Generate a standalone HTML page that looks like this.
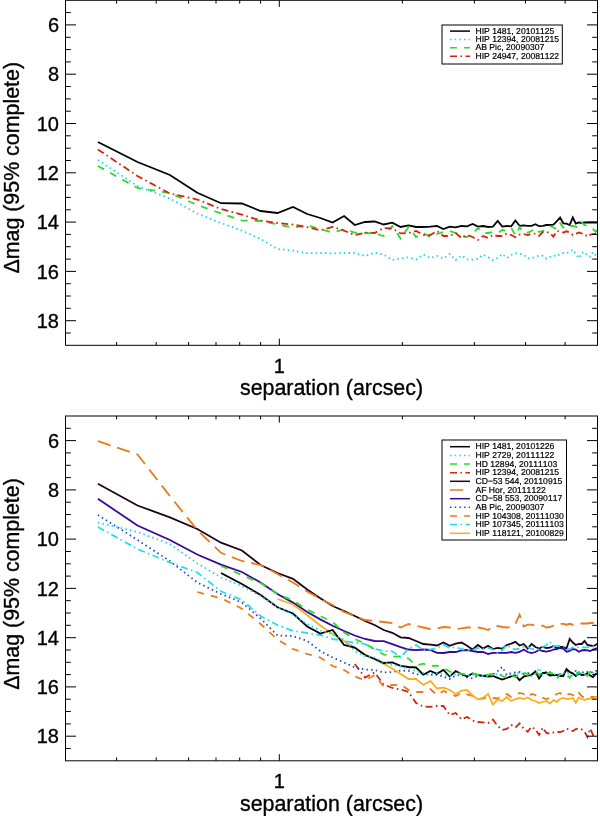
<!DOCTYPE html>
<html><head><meta charset="utf-8"><title>Contrast curves</title>
<style>
html,body{margin:0;padding:0;background:#fff;}
svg{display:block;will-change:transform;}
text{font-family:"Liberation Sans",sans-serif;fill:#000;font-kerning:none;}
.tk{font-size:20px;stroke:#000;stroke-width:0.35px;}
.ax{font-size:21.4px;stroke:#000;stroke-width:0.35px;}
.lg{font-size:8.6px;text-rendering:geometricPrecision;stroke:#000;stroke-width:0.2px;}
.cv polyline{fill:none;stroke-width:1.8;stroke-linejoin:miter;}
</style></head><body>
<svg width="600" height="816" viewBox="0 0 600 816">
<rect width="600" height="816" fill="#fff"/>
<defs><clipPath id="c1"><rect x="65.5" y="0" width="532" height="345.3"/></clipPath>
<clipPath id="c2"><rect x="65.5" y="416" width="532" height="344.8"/></clipPath></defs>
<g class="cv" clip-path="url(#c1)">
<polyline points="97.9,142.0 137.5,162.0 169.9,175.0 197.3,192.8 221.0,203.2 241.9,203.5 260.6,211.0 277.5,213.0 293.0,207.0 307.2,214.0 320.3,218.0 332.6,222.6 344.1,216.0 354.8,225.0 365.0,222.0 374.6,221.5 383.7,224.5 392.3,222.6 400.6,227.0 408.5,225.4 416.1,227.0 423.3,227.0 430.3,226.6 437.0,226.0 443.4,229.0 449.7,226.6 455.7,227.4 461.5,226.0 467.1,226.4 472.6,224.0 477.9,226.6 483.1,226.0 488.1,227.0 492.9,226.6 497.7,221.0 502.3,226.6 506.8,226.0 511.2,226.3 515.4,220.5 519.6,225.8 523.7,225.3 527.7,225.8 531.6,225.8 535.4,224.2 539.1,226.2 542.8,225.8 546.4,225.0 549.9,225.0 553.4,224.7 556.7,221.3 560.1,217.5 563.3,223.3 566.5,223.7 569.7,225.0 572.8,217.5 575.8,223.7 578.8,222.5 581.7,223.0 584.6,222.5 587.4,222.5 590.2,222.5 593.0,222.5 595.7,222.5 598.4,222.5" stroke="#000"/>
<polyline points="97.9,160.0 137.5,186.0 169.9,198.6 197.3,213.5 221.0,223.0 241.9,230.6 260.6,239.0 277.5,249.0 293.0,250.6 307.2,253.2 320.3,253.0 332.6,253.4 344.1,253.0 354.8,253.0 365.0,256.0 374.6,252.6 383.7,254.6 392.3,260.0 400.6,258.6 408.5,257.4 416.1,259.5 423.3,254.6 430.3,258.0 437.0,256.0 443.4,258.6 449.7,254.0 455.7,260.0 461.5,255.4 467.1,259.4 472.6,259.6 477.9,259.0 483.1,254.6 488.1,257.0 492.9,260.2 497.7,258.0 502.3,254.0 506.8,258.0 511.2,255.0 515.4,253.3 519.6,253.7 523.7,254.7 527.7,258.3 531.6,258.3 535.4,257.0 539.1,255.5 542.8,255.8 546.4,258.7 549.9,257.0 553.4,255.5 556.7,256.3 560.1,254.0 563.3,253.0 566.5,253.0 569.7,252.0 572.8,249.7 575.8,254.0 578.8,258.3 581.7,253.0 584.6,252.0 587.4,255.8 590.2,256.7 593.0,252.0 595.7,255.0 598.4,254.0" stroke="#19d3f3" stroke-dasharray="1.5 3.2"/>
<polyline points="97.9,166.0 137.5,188.0 169.9,193.0 197.3,205.0 221.0,213.4 241.9,220.6 260.6,221.0 277.5,224.4 293.0,227.6 307.2,225.5 320.3,229.0 332.6,232.6 344.1,229.4 354.8,232.6 365.0,233.0 374.6,233.4 383.7,236.0 392.3,226.0 400.6,238.6 408.5,227.0 416.1,237.0 423.3,233.0 430.3,237.0 437.0,234.0 443.4,232.0 449.7,231.0 455.7,233.0 461.5,236.0 467.1,237.0 472.6,234.0 477.9,228.0 483.1,233.0 488.1,233.0 492.9,232.0 497.7,233.0 502.3,230.0 506.8,230.5 511.2,228.0 515.4,235.5 519.6,227.0 523.7,233.0 527.7,232.5 531.6,231.0 535.4,228.0 539.1,232.0 542.8,231.0 546.4,229.0 549.9,226.0 553.4,227.5 556.7,229.0 560.1,223.0 563.3,227.5 566.5,225.0 569.7,226.0 572.8,226.0 575.8,226.7 578.8,228.0 581.7,222.5 584.6,225.0 587.4,226.0 590.2,226.7 593.0,229.0 595.7,231.7 598.4,229.0" stroke="#2bdc2b" stroke-dasharray="7 7"/>
<polyline points="97.9,149.4 137.5,176.0 169.9,193.5 197.3,199.5 221.0,209.0 241.9,214.6 260.6,220.6 277.5,223.0 293.0,224.6 307.2,227.2 320.3,230.3 332.6,227.0 344.1,230.6 354.8,235.2 365.0,232.6 374.6,233.0 383.7,228.0 392.3,228.3 400.6,233.4 408.5,233.0 416.1,231.0 423.3,235.0 430.3,235.0 437.0,231.0 443.4,236.0 449.7,236.0 455.7,233.0 461.5,238.0 467.1,235.0 472.6,237.0 477.9,240.0 483.1,236.0 488.1,238.0 492.9,235.0 497.7,236.0 502.3,236.0 506.8,233.5 511.2,235.0 515.4,237.3 519.6,234.5 523.7,234.0 527.7,235.0 531.6,233.7 535.4,233.7 539.1,235.8 542.8,232.0 546.4,232.0 549.9,233.0 553.4,236.7 556.7,231.0 560.1,231.7 563.3,232.5 566.5,231.3 569.7,232.5 572.8,235.0 575.8,234.0 578.8,232.5 581.7,233.3 584.6,234.0 587.4,236.7 590.2,234.7 593.0,234.2 595.7,233.7 598.4,233.5" stroke="#d9230f" stroke-dasharray="7 3.4 1.6 3.4"/>
</g>
<rect x="65.5" y="0.3" width="532.0" height="345.0" fill="none" stroke="#000" stroke-width="1"/>
<path d="M65.5 12.6h5.3M597.5 12.6h-5.3M65.5 24.9h10.5M597.5 24.9h-10.5M65.5 37.3h5.3M597.5 37.3h-5.3M65.5 49.6h5.3M597.5 49.6h-5.3M65.5 61.9h5.3M597.5 61.9h-5.3M65.5 74.2h10.5M597.5 74.2h-10.5M65.5 86.5h5.3M597.5 86.5h-5.3M65.5 98.9h5.3M597.5 98.9h-5.3M65.5 111.2h5.3M597.5 111.2h-5.3M65.5 123.5h10.5M597.5 123.5h-10.5M65.5 135.8h5.3M597.5 135.8h-5.3M65.5 148.2h5.3M597.5 148.2h-5.3M65.5 160.5h5.3M597.5 160.5h-5.3M65.5 172.8h10.5M597.5 172.8h-10.5M65.5 185.1h5.3M597.5 185.1h-5.3M65.5 197.4h5.3M597.5 197.4h-5.3M65.5 209.8h5.3M597.5 209.8h-5.3M65.5 222.1h10.5M597.5 222.1h-10.5M65.5 234.4h5.3M597.5 234.4h-5.3M65.5 246.7h5.3M597.5 246.7h-5.3M65.5 259.1h5.3M597.5 259.1h-5.3M65.5 271.4h10.5M597.5 271.4h-10.5M65.5 283.7h5.3M597.5 283.7h-5.3M65.5 296.0h5.3M597.5 296.0h-5.3M65.5 308.3h5.3M597.5 308.3h-5.3M65.5 320.7h10.5M597.5 320.7h-10.5M65.5 333.0h5.3M597.5 333.0h-5.3M116.6 345.3v-3.3M116.6 0.3v3.3M156.2 345.3v-3.3M156.2 0.3v3.3M188.6 345.3v-3.3M188.6 0.3v3.3M216.0 345.3v-3.3M216.0 0.3v3.3M239.7 345.3v-3.3M239.7 0.3v3.3M260.6 345.3v-3.3M260.6 0.3v3.3M279.3 345.3v-6.6M279.3 0.3v6.6M402.4 345.3v-3.3M402.4 0.3v3.3M474.4 345.3v-3.3M474.4 0.3v3.3M525.5 345.3v-3.3M525.5 0.3v3.3M565.1 345.3v-3.3M565.1 0.3v3.3" stroke="#000" stroke-width="1" fill="none"/>
<text x="59" y="32.0" text-anchor="end" class="tk">6</text>
<text x="59" y="81.3" text-anchor="end" class="tk">8</text>
<text x="59" y="130.6" text-anchor="end" class="tk">10</text>
<text x="59" y="179.9" text-anchor="end" class="tk">12</text>
<text x="59" y="229.2" text-anchor="end" class="tk">14</text>
<text x="59" y="278.5" text-anchor="end" class="tk">16</text>
<text x="59" y="327.8" text-anchor="end" class="tk">18</text>
<text x="279.3" y="372.6" text-anchor="middle" class="tk">1</text>
<text x="331.5" y="395.3" text-anchor="middle" class="ax">separation (arcsec)</text>
<text transform="translate(18.8 167.8) rotate(-90)" text-anchor="middle" class="ax">Δmag (95% complete)</text>
<rect x="442.0" y="25.0" width="120.3" height="39.0" fill="#fff" stroke="#000" stroke-width="1"/>
<path d="M450 31.1H470.0" stroke="#000" stroke-width="1.5" fill="none"/>
<text x="475.5" y="33.7" class="lg">HIP 1481, 20101125</text>
<path d="M450 39.5H470.0" stroke="#19d3f3" stroke-width="1.5" fill="none" stroke-dasharray="1.5 3.2"/>
<text x="475.5" y="42.1" class="lg">HIP 12394, 20081215</text>
<path d="M450 47.8H470.0" stroke="#2bdc2b" stroke-width="1.5" fill="none" stroke-dasharray="7 7"/>
<text x="475.5" y="50.4" class="lg">AB Pic, 20090307</text>
<path d="M450 56.2H470.0" stroke="#d9230f" stroke-width="1.5" fill="none" stroke-dasharray="7 3.4 1.6 3.4"/>
<text x="475.5" y="58.8" class="lg">HIP 24947, 20081122</text>
<g class="cv" clip-path="url(#c2)">
<polyline points="354.8,664.0 365.0,677.5 374.6,672.5 383.7,684.5 392.3,688.0 400.6,689.4 408.5,692.0 416.1,703.0 423.3,706.5 430.3,706.8 437.0,706.0 443.4,706.0 449.7,715.0 455.7,713.0 461.5,719.3 467.1,717.0 472.6,720.6 477.9,722.0 483.1,722.4 488.1,723.0 492.9,719.5 497.7,726.0 502.3,730.0 506.8,729.0 511.2,725.0 515.4,727.6 519.6,723.4 523.7,728.5 527.7,731.8 531.6,726.7 535.4,729.4 539.1,735.0 542.8,727.6 546.4,733.0 549.9,733.6 553.4,732.5 556.7,732.0 560.1,732.0 563.3,731.0 566.5,728.5 569.7,730.0 572.8,731.0 575.8,729.0 578.8,728.5 581.7,729.4 584.6,731.8 587.4,737.0 590.2,728.5 593.0,735.0 595.7,733.6 598.4,733.0" stroke="#d9230f" stroke-dasharray="7 3.4 1.6 3.4"/>
<polyline points="97.9,483.8 137.5,505.5 169.9,517.3 197.3,529.0 221.0,542.7 241.9,550.5 260.6,565.0 277.5,573.0 293.0,578.8 307.2,589.5 320.3,598.3 332.6,606.0 344.1,611.0 354.8,616.0 365.0,621.0 374.6,625.0 383.7,630.0 392.3,632.8 400.6,637.3 408.5,638.0 416.1,641.0 423.3,644.0 430.3,644.6 437.0,645.5 443.4,642.5 449.7,645.8 455.7,643.6 461.5,642.5 467.1,645.8 472.6,649.5 477.9,645.0 483.1,648.6 488.1,645.8 492.9,649.0 497.7,647.8 502.3,648.6 506.8,645.0 511.2,643.6 515.4,641.8 519.6,645.5 523.7,644.0 527.7,648.6 531.6,644.0 535.4,647.0 539.1,648.6 542.8,646.8 546.4,648.0 549.9,647.7 553.4,646.0 556.7,648.0 560.1,646.8 563.3,647.0 566.5,648.6 569.7,638.9 572.8,642.5 575.8,645.0 578.8,644.0 581.7,644.0 584.6,641.0 587.4,645.0 590.2,645.5 593.0,646.0 595.7,645.0 598.4,643.0" stroke="#1c0418"/>
<polyline points="97.9,441.2 137.5,454.5 169.9,496.0 197.3,530.0 221.0,552.8 241.9,561.0 260.6,565.0 277.5,574.0 293.0,582.5 307.2,591.5 320.3,598.8 332.6,605.0 344.1,612.0 354.8,616.0 365.0,620.0 374.6,621.0 383.7,622.0 392.3,623.0 400.6,627.5 408.5,624.0 416.1,625.8 423.3,627.5 430.3,629.0 437.0,628.4 443.4,627.0 449.7,627.5 455.7,629.0 461.5,628.4 467.1,627.5 472.6,627.5 477.9,627.5 483.1,628.4 488.1,630.0 492.9,626.5 497.7,626.0 502.3,627.0 506.8,627.5 511.2,627.0 515.4,623.8 519.6,614.7 523.7,626.6 527.7,624.7 531.6,624.7 535.4,625.7 539.1,625.3 542.8,625.7 546.4,627.5 549.9,627.0 553.4,625.7 556.7,624.7 560.1,624.0 563.3,623.8 566.5,624.7 569.7,623.8 572.8,624.7 575.8,624.0 578.8,623.8 581.7,623.5 584.6,623.5 587.4,623.5 590.2,623.0 593.0,623.0 595.7,623.0 598.4,623.0" stroke="#ea7a1f" stroke-dasharray="13.3 7"/>
<polyline points="97.9,498.8 137.5,525.5 169.9,540.0 197.3,554.5 221.0,564.7 241.9,572.0 260.6,582.5 277.5,594.0 293.0,602.6 307.2,612.0 320.3,619.4 332.6,625.7 344.1,631.0 354.8,635.5 365.0,639.0 374.6,641.0 383.7,641.2 392.3,644.2 400.6,647.2 408.5,649.5 416.1,650.2 423.3,649.5 430.3,650.0 437.0,652.8 443.4,653.0 449.7,652.0 455.7,652.0 461.5,650.4 467.1,650.0 472.6,651.0 477.9,652.0 483.1,652.0 488.1,654.0 492.9,652.9 497.7,652.9 502.3,652.8 506.8,652.8 511.2,652.0 515.4,652.8 519.6,652.0 523.7,649.5 527.7,652.0 531.6,653.0 535.4,652.0 539.1,650.0 542.8,651.0 546.4,651.7 549.9,651.0 553.4,649.5 556.7,649.0 560.1,648.0 563.3,648.6 566.5,651.7 569.7,651.0 572.8,649.0 575.8,649.5 578.8,651.7 581.7,650.4 584.6,650.0 587.4,650.4 590.2,651.0 593.0,649.5 595.7,648.6 598.4,648.0" stroke="#380898"/>
<polyline points="97.9,515.0 137.5,540.0 169.9,561.0 197.3,582.5 221.0,594.0 241.9,602.5 260.6,618.5 277.5,635.5 293.0,636.0 307.2,641.0 320.3,651.0 332.6,657.5 344.1,662.5 354.8,667.5 365.0,669.5 374.6,670.0 383.7,672.5 392.3,672.0 400.6,670.5 408.5,671.0 416.1,674.5 423.3,674.0 430.3,674.7 437.0,675.0 443.4,676.6 449.7,679.0 455.7,675.7 461.5,674.7 467.1,677.5 472.6,678.4 477.9,675.7 483.1,675.7 488.1,674.7 492.9,674.5 497.7,671.0 502.3,667.0 506.8,675.0 511.2,673.0 515.4,672.5 519.6,672.0 523.7,674.0 527.7,673.0 531.6,674.0 535.4,673.0 539.1,675.0 542.8,673.0 546.4,672.0 549.9,674.0 553.4,675.0 556.7,676.0 560.1,674.0 563.3,675.0 566.5,669.5 569.7,674.0 572.8,672.0 575.8,671.0 578.8,674.0 581.7,672.0 584.6,673.0 587.4,672.0 590.2,673.0 593.0,672.0 595.7,671.0 598.4,671.0" stroke="#2348c0" stroke-dasharray="1.5 3.2"/>
<polyline points="197.3,592.0 221.0,598.2 241.9,608.7 260.6,624.0 277.5,639.5 293.0,649.0 307.2,654.0 320.3,657.5 332.6,666.0 344.1,670.0 354.8,676.5 365.0,680.2 374.6,675.3 383.7,686.5 392.3,685.0 400.6,684.7 408.5,689.8 416.1,692.0 423.3,692.0 430.3,689.0 437.0,695.0 443.4,691.0 449.7,693.6 455.7,696.0 461.5,693.0 467.1,694.4 472.6,696.0 477.9,699.0 483.1,698.5 488.1,696.8 492.9,698.0 497.7,698.5 502.3,695.0 506.8,694.0 511.2,697.0 515.4,695.0 519.6,693.0 523.7,694.0 527.7,697.0 531.6,694.0 535.4,695.0 539.1,698.0 542.8,698.0 546.4,699.0 549.9,698.0 553.4,696.0 556.7,694.0 560.1,693.0 563.3,696.0 566.5,695.0 569.7,694.0 572.8,695.0 575.8,697.0 578.8,693.0 581.7,696.0 584.6,698.0 587.4,697.0 590.2,697.0 593.0,697.0 595.7,697.0 598.4,697.0" stroke="#ea7a1f" stroke-dasharray="7 7"/>
<polyline points="97.9,527.0 137.5,549.0 169.9,562.5 197.3,572.5 221.0,591.3 241.9,600.0 260.6,616.0 277.5,625.0 293.0,631.0 307.2,633.0 320.3,635.0 332.6,639.0 344.1,641.0 354.8,642.5 365.0,644.0 374.6,649.0 383.7,651.0 392.3,651.3 400.6,657.5 408.5,648.5 416.1,645.0 423.3,650.0 430.3,649.5 437.0,648.0 443.4,644.8 449.7,648.0 455.7,647.3 461.5,649.0 467.1,650.0 472.6,650.0 477.9,648.0 483.1,649.0 488.1,648.0 492.9,649.5 497.7,653.0 502.3,650.0 506.8,645.0 511.2,648.0 515.4,649.5 519.6,648.5 523.7,647.0 527.7,647.0 531.6,649.0 535.4,649.5 539.1,649.5 542.8,647.0 546.4,645.0 549.9,641.5 553.4,646.0 556.7,646.0 560.1,646.0 563.3,646.0 566.5,648.0 569.7,649.5 572.8,647.3 575.8,647.3 578.8,647.3 581.7,647.3 584.6,647.3 587.4,647.3 590.2,647.0 593.0,646.5 595.7,646.0 598.4,645.8" stroke="#22dfee" stroke-dasharray="7 3.4 1.6 3.4"/>
<polyline points="277.5,599.0 293.0,604.5 307.2,615.0 320.3,625.5 332.6,634.0 344.1,641.0 354.8,648.0 365.0,654.5 374.6,659.0 383.7,664.0 392.3,668.5 400.6,674.0 408.5,679.0 416.1,679.0 423.3,685.0 430.3,681.0 437.0,688.5 443.4,687.6 449.7,690.0 455.7,694.0 461.5,690.7 467.1,690.0 472.6,695.5 477.9,699.5 483.1,697.7 488.1,694.0 492.9,704.7 497.7,699.3 502.3,701.0 506.8,697.0 511.2,701.0 515.4,699.0 519.6,698.0 523.7,699.0 527.7,697.5 531.6,700.0 535.4,701.0 539.1,703.0 542.8,702.0 546.4,701.0 549.9,703.6 553.4,700.0 556.7,701.8 560.1,699.0 563.3,698.0 566.5,699.0 569.7,698.6 572.8,698.0 575.8,702.7 578.8,697.5 581.7,699.0 584.6,700.0 587.4,699.0 590.2,698.6 593.0,698.6 595.7,697.0 598.4,697.0" stroke="#f5b01a"/>
<polyline points="221.0,573.0 241.9,584.0 260.6,595.0 277.5,607.3 293.0,613.5 307.2,626.5 320.3,633.5 332.6,630.0 344.1,645.0 354.8,647.5 365.0,655.0 374.6,659.0 383.7,663.0 392.3,662.3 400.6,665.8 408.5,667.0 416.1,667.5 423.3,674.7 430.3,671.0 437.0,673.8 443.4,670.0 449.7,676.6 455.7,671.0 461.5,674.0 467.1,676.5 472.6,673.5 477.9,675.0 483.1,675.8 488.1,676.5 492.9,676.0 497.7,677.8 502.3,679.5 506.8,678.0 511.2,676.3 515.4,675.5 519.6,680.2 523.7,676.6 527.7,675.5 531.6,674.8 535.4,671.5 539.1,678.5 542.8,673.0 546.4,673.0 549.9,675.5 553.4,675.0 556.7,674.8 560.1,676.0 563.3,676.0 566.5,669.0 569.7,672.0 572.8,673.3 575.8,676.0 578.8,673.0 581.7,675.0 584.6,674.8 587.4,673.3 590.2,675.5 593.0,677.0 595.7,674.0 598.4,674.0" stroke="#000"/>
<polyline points="97.9,522.5 137.5,532.0 169.9,544.0 197.3,563.3 221.0,577.5 241.9,586.0 260.6,596.0 277.5,607.0 293.0,615.0 307.2,624.0 320.3,630.5 332.6,634.0 344.1,640.0 354.8,651.0 365.0,656.0 374.6,657.5 383.7,662.5 392.3,665.0 400.6,666.0 408.5,669.0 416.1,671.0 423.3,673.0 430.3,674.5 437.0,673.0 443.4,674.0 449.7,676.0 455.7,674.0 461.5,673.5 467.1,675.5 472.6,674.5 477.9,675.0 483.1,676.0 488.1,676.0 492.9,675.0 497.7,674.0 502.3,675.0 506.8,676.0 511.2,673.0 515.4,674.5 519.6,672.0 523.7,674.0 527.7,675.0 531.6,676.0 535.4,674.0 539.1,668.0 542.8,675.0 546.4,674.0 549.9,672.0 553.4,674.0 556.7,675.0 560.1,674.0 563.3,673.0 566.5,672.5 569.7,674.0 572.8,675.0 575.8,673.0 578.8,672.0 581.7,674.0 584.6,675.0 587.4,673.0 590.2,672.0 593.0,673.0 595.7,674.0 598.4,673.0" stroke="#19d3f3" stroke-dasharray="1.5 3.2"/>
<polyline points="221.0,566.0 241.9,575.0 260.6,583.0 277.5,594.0 293.0,600.5 307.2,609.6 320.3,616.0 332.6,622.0 344.1,632.5 354.8,639.0 365.0,643.5 374.6,649.5 383.7,654.5 392.3,656.7 400.6,656.4 408.5,658.6 416.1,665.3 423.3,663.7 430.3,666.0 437.0,665.6 443.4,668.0 449.7,671.6 455.7,673.0 461.5,673.8 467.1,673.8 472.6,673.5 477.9,674.7 483.1,674.7 488.1,674.7 492.9,674.0 497.7,673.8 502.3,676.0 506.8,678.0 511.2,675.0 515.4,677.0 519.6,674.0 523.7,672.0 527.7,675.0 531.6,673.0 535.4,671.0 539.1,675.0 542.8,672.0 546.4,674.0 549.9,672.0 553.4,674.0 556.7,679.0 560.1,674.0 563.3,673.0 566.5,674.0 569.7,678.0 572.8,673.0 575.8,676.0 578.8,672.0 581.7,675.0 584.6,674.0 587.4,676.0 590.2,672.0 593.0,670.0 595.7,673.0 598.4,672.0" stroke="#2bdc2b" stroke-dasharray="7 7"/>
</g>
<rect x="65.5" y="416.0" width="532.0" height="344.8" fill="none" stroke="#000" stroke-width="1"/>
<path d="M65.5 428.3h5.3M597.5 428.3h-5.3M65.5 440.6h10.5M597.5 440.6h-10.5M65.5 452.9h5.3M597.5 452.9h-5.3M65.5 465.3h5.3M597.5 465.3h-5.3M65.5 477.6h5.3M597.5 477.6h-5.3M65.5 489.9h10.5M597.5 489.9h-10.5M65.5 502.2h5.3M597.5 502.2h-5.3M65.5 514.5h5.3M597.5 514.5h-5.3M65.5 526.8h5.3M597.5 526.8h-5.3M65.5 539.1h10.5M597.5 539.1h-10.5M65.5 551.5h5.3M597.5 551.5h-5.3M65.5 563.8h5.3M597.5 563.8h-5.3M65.5 576.1h5.3M597.5 576.1h-5.3M65.5 588.4h10.5M597.5 588.4h-10.5M65.5 600.7h5.3M597.5 600.7h-5.3M65.5 613.0h5.3M597.5 613.0h-5.3M65.5 625.3h5.3M597.5 625.3h-5.3M65.5 637.7h10.5M597.5 637.7h-10.5M65.5 650.0h5.3M597.5 650.0h-5.3M65.5 662.3h5.3M597.5 662.3h-5.3M65.5 674.6h5.3M597.5 674.6h-5.3M65.5 686.9h10.5M597.5 686.9h-10.5M65.5 699.2h5.3M597.5 699.2h-5.3M65.5 711.5h5.3M597.5 711.5h-5.3M65.5 723.9h5.3M597.5 723.9h-5.3M65.5 736.2h10.5M597.5 736.2h-10.5M65.5 748.5h5.3M597.5 748.5h-5.3M116.6 760.8v-3.3M116.6 416.0v3.3M156.2 760.8v-3.3M156.2 416.0v3.3M188.6 760.8v-3.3M188.6 416.0v3.3M216.0 760.8v-3.3M216.0 416.0v3.3M239.7 760.8v-3.3M239.7 416.0v3.3M260.6 760.8v-3.3M260.6 416.0v3.3M279.3 760.8v-6.6M279.3 416.0v6.6M402.4 760.8v-3.3M402.4 416.0v3.3M474.4 760.8v-3.3M474.4 416.0v3.3M525.5 760.8v-3.3M525.5 416.0v3.3M565.1 760.8v-3.3M565.1 416.0v3.3" stroke="#000" stroke-width="1" fill="none"/>
<text x="59" y="447.7" text-anchor="end" class="tk">6</text>
<text x="59" y="497.0" text-anchor="end" class="tk">8</text>
<text x="59" y="546.2" text-anchor="end" class="tk">10</text>
<text x="59" y="595.5" text-anchor="end" class="tk">12</text>
<text x="59" y="644.8" text-anchor="end" class="tk">14</text>
<text x="59" y="694.0" text-anchor="end" class="tk">16</text>
<text x="59" y="743.3" text-anchor="end" class="tk">18</text>
<text x="279.3" y="788.1" text-anchor="middle" class="tk">1</text>
<text x="331.5" y="810.8" text-anchor="middle" class="ax">separation (arcsec)</text>
<text transform="translate(18.8 584.0) rotate(-90)" text-anchor="middle" class="ax">Δmag (95% complete)</text>
<rect x="442.0" y="440.0" width="124.5" height="100.0" fill="#fff" stroke="#000" stroke-width="1"/>
<path d="M450 446.7H470.0" stroke="#000" stroke-width="1.5" fill="none"/>
<text x="475.5" y="449.3" class="lg">HIP 1481, 20101226</text>
<path d="M450 455.4H470.0" stroke="#19d3f3" stroke-width="1.5" fill="none" stroke-dasharray="1.5 3.2"/>
<text x="475.5" y="458.0" class="lg">HIP 2729, 20111122</text>
<path d="M450 464.0H470.0" stroke="#2bdc2b" stroke-width="1.5" fill="none" stroke-dasharray="7 7"/>
<text x="475.5" y="466.6" class="lg">HD 12894, 20111103</text>
<path d="M450 472.7H470.0" stroke="#d9230f" stroke-width="1.5" fill="none" stroke-dasharray="7 3.4 1.6 3.4"/>
<text x="475.5" y="475.3" class="lg">HIP 12394, 20081215</text>
<path d="M450 481.3H470.0" stroke="#1c0418" stroke-width="1.5" fill="none"/>
<text x="475.5" y="483.9" class="lg">CD−53 544, 20110915</text>
<path d="M450 490.0H464.0" stroke="#ea7a1f" stroke-width="1.5" fill="none" stroke-dasharray="13.3 7"/>
<text x="475.5" y="492.6" class="lg">AF Hor, 20111122</text>
<path d="M450 498.7H470.0" stroke="#380898" stroke-width="1.5" fill="none"/>
<text x="475.5" y="501.3" class="lg">CD−58 553, 20090117</text>
<path d="M450 507.3H470.0" stroke="#2348c0" stroke-width="1.5" fill="none" stroke-dasharray="1.5 3.2"/>
<text x="475.5" y="509.9" class="lg">AB Pic, 20090307</text>
<path d="M450 516.0H470.0" stroke="#ea7a1f" stroke-width="1.5" fill="none" stroke-dasharray="7 7"/>
<text x="475.5" y="518.6" class="lg">HIP 104308, 20111030</text>
<path d="M450 524.6H470.0" stroke="#22dfee" stroke-width="1.5" fill="none" stroke-dasharray="7 3.4 1.6 3.4"/>
<text x="475.5" y="527.2" class="lg">HIP 107345, 20111103</text>
<path d="M450 533.3H470.0" stroke="#f5b01a" stroke-width="1.5" fill="none"/>
<text x="475.5" y="535.9" class="lg">HIP 118121, 20100829</text>
</svg></body></html>
